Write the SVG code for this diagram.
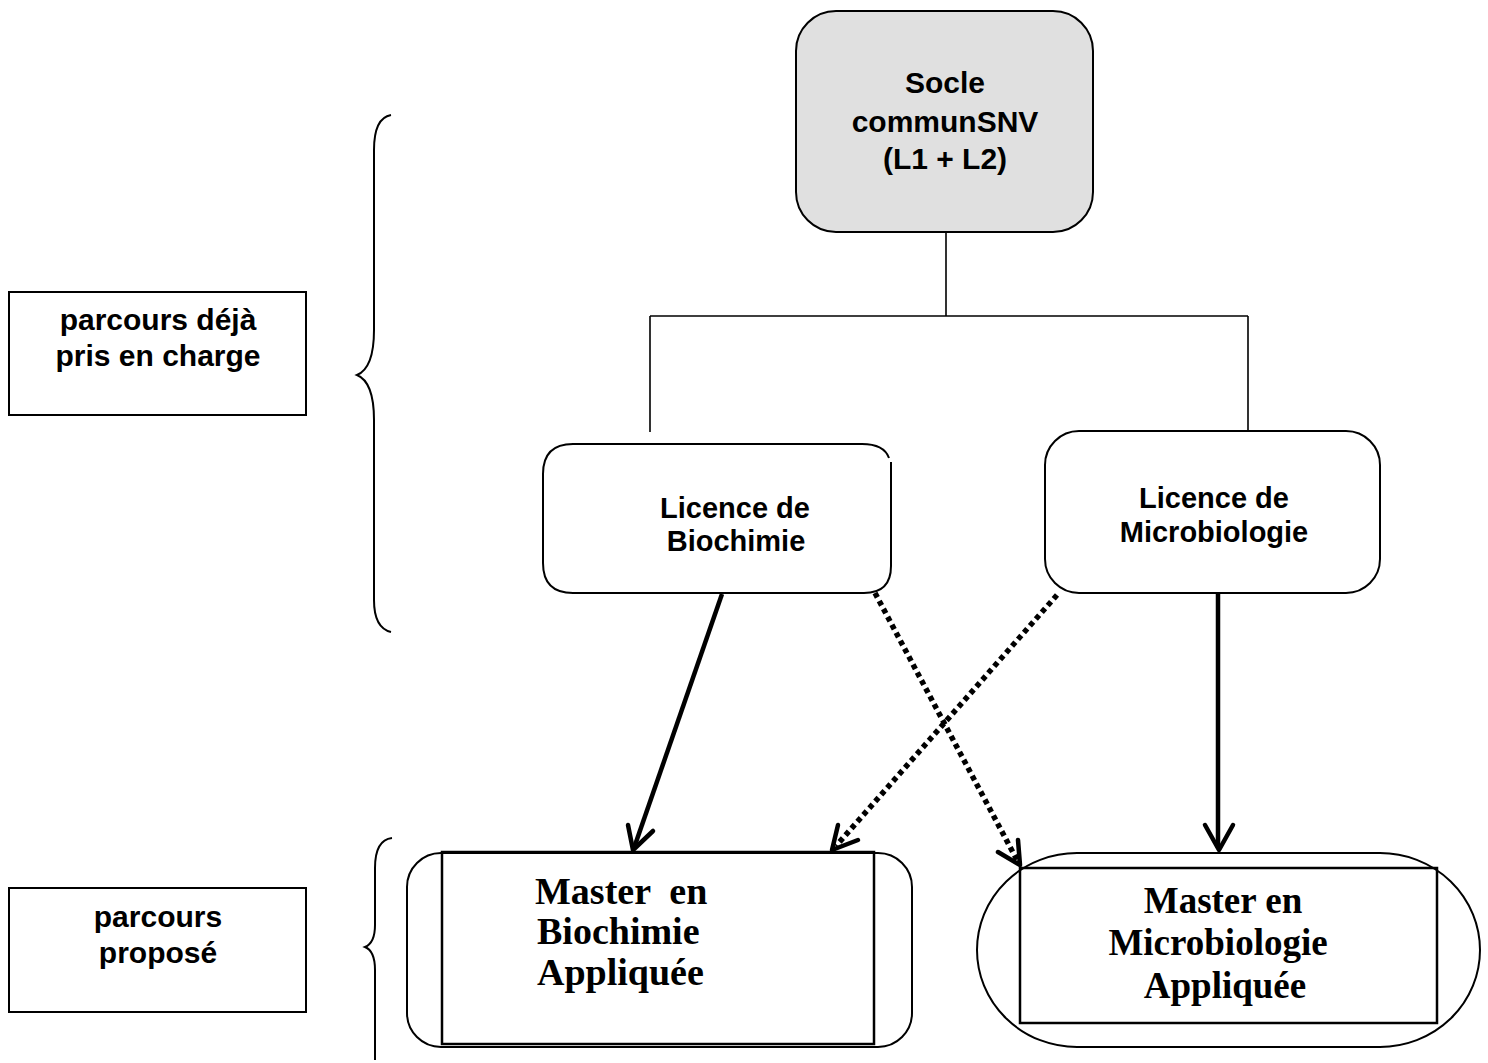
<svg xmlns="http://www.w3.org/2000/svg" width="1488" height="1063" viewBox="0 0 1488 1063">
<style>
.box{fill:#fff;stroke:#000;stroke-width:2}
.sans{font-family:"Liberation Sans",Arial,sans-serif;font-weight:bold;fill:#000}
.serif{font-family:"Liberation Serif","Times New Roman",serif;font-weight:bold;fill:#000}
.thin{fill:none;stroke:#000;stroke-width:1.6}
.solid{fill:none;stroke:#000;stroke-width:4.5}
.dot{fill:none;stroke:#000;stroke-width:5.5;stroke-dasharray:5 4}
.head{fill:none;stroke:#000;stroke-width:4.5;stroke-linecap:round;stroke-linejoin:round}
.brace{fill:none;stroke:#000;stroke-width:2}
</style>
<rect width="1488" height="1063" fill="#fff"/>
<g id="socle">
<rect x="796" y="11" width="297" height="221" rx="40" ry="40" fill="#e0e0e0" stroke="#000" stroke-width="2"/>
<text class="sans" font-size="30" text-anchor="middle"><tspan x="945" y="93">Socle</tspan><tspan x="945" y="132">communSNV</tspan><tspan x="945" y="169">(L1 + L2)</tspan></text>
</g>
<g id="licence-bio">
<path class="box" d="M889,458 Q884,444 862,444 H573 Q543,444 543,474 V563 Q543,593 573,593 H864 Q891,593 891,566 V462"/>
<text class="sans" font-size="29" text-anchor="middle"><tspan x="735" y="518">Licence de</tspan><tspan x="736" y="551">Biochimie</tspan></text>
</g>
<g id="licence-micro">
<rect class="box" x="1045" y="431" width="335" height="162" rx="34" ry="34"/>
<text class="sans" font-size="29" text-anchor="middle"><tspan x="1214" y="508">Licence de</tspan><tspan x="1214" y="542">Microbiologie</tspan></text>
</g>
<g id="label-deja">
<rect class="box" x="9" y="292" width="297" height="123"/>
<text class="sans" font-size="30" text-anchor="middle"><tspan x="158" y="330">parcours déjà</tspan><tspan x="158" y="366">pris en charge</tspan></text>
</g>
<g id="label-propose">
<rect class="box" x="9" y="888" width="297" height="124"/>
<text class="sans" font-size="30" text-anchor="middle"><tspan x="158" y="927">parcours</tspan><tspan x="158" y="963">proposé</tspan></text>
</g>
<g id="brace-top">
<path class="brace" d="M391,115 Q374,118 374,150 V330 Q374,368 357,375 Q374,382 374,420 V600 Q374,628 391,632"/>
</g>
<g id="brace-bottom">
<path class="brace" d="M392,838 Q375,840 375,868 V925 Q375,943 365,947 Q375,951 375,970 V1060"/>
</g>
<g id="master-bio">
<rect class="box" x="407" y="853" width="505" height="194" rx="34" ry="34"/>
<rect x="442" y="852" width="432" height="192" fill="none" stroke="#000" stroke-width="2.5"/>
<text class="serif" font-size="38" xml:space="preserve"><tspan x="535" y="904">Master  en</tspan><tspan x="537" y="944">Biochimie</tspan><tspan x="537" y="985">Appliquée</tspan></text>
</g>
<g id="master-micro">
<rect class="box" x="977" y="853" width="503" height="194" rx="100" ry="97"/>
<rect x="1020" y="868" width="417" height="155" fill="none" stroke="#000" stroke-width="2.5"/>
<text class="serif" font-size="37" text-anchor="middle"><tspan x="1223" y="913">Master en</tspan><tspan x="1218" y="955">Microbiologie</tspan><tspan x="1225" y="998">Appliquée</tspan></text>
</g>
<g id="connectors">
<path class="thin" d="M946,232 V316 M650,316 H1248 M650,316 V432 M1248,316 V432"/>
<path class="solid" d="M722,594 L634,848"/>
<path class="head" d="M628,825 L633,850 L653,831"/>
<path class="solid" d="M1218,594 V848"/>
<path class="head" d="M1205,825 L1219,850 L1233,825"/>
<path class="dot" d="M875,593 L1017,860"/>
<path class="head" d="M998,852 L1020,865 L1018,840"/>
<path class="dot" d="M1057,595 L836,846"/>
<path class="head" d="M838,825 L832,850 L858,840"/>
</g>
</svg>
